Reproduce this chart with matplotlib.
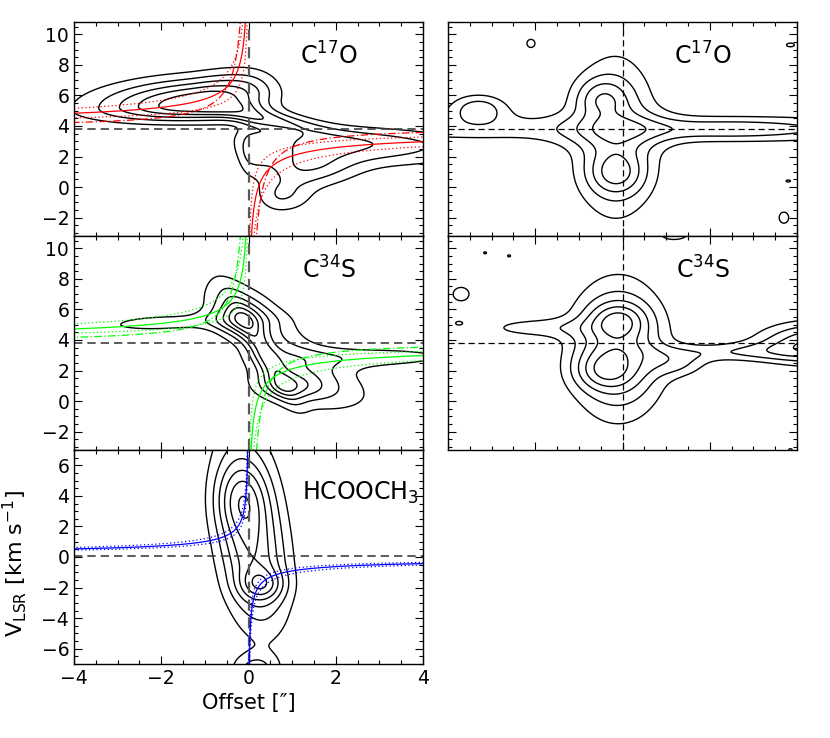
import numpy as np
import matplotlib
matplotlib.use('Agg')
from matplotlib import pyplot as plt
from matplotlib.ticker import MultipleLocator

plt.rcParams['font.family'] = ['DejaVu Sans']
plt.rcParams['mathtext.fontset'] = 'dejavusans'

# emission components:
# (x0, v0, sig_x left, sig_x right, sig_v low, sig_v high, amplitude, dv/dx shear, dx/dv shear)
c17o_pv = [(-1.1, 5.4, 1.6, 0.9, 0.7, 1.15, 5.5, 0.1, 0),
           (0.0, 6.5, 0.6, 0.5, 0.8, 1.0, 1.5, 0, 0),
           (0.3, 4.5, 0.6, 0.9, 0.4, 0.5, 2.8, -0.5, 0),
           (1.8, 2.9, 1.3, 2.4, 1.0, 0.75, 3.0, -0.08, 0),
           (1.3, 1.2, 0.6, 0.8, 0.9, 0.8, 2.2, 0, 0),
           (0.75, -0.6, 0.4, 0.5, 0.8, 0.8, 1.8, 0, 0),
           (0.05, 2.2, 0.2, 0.35, 1.1, 1.1, 1.5, 0, 0)]
c34s_pv = [(-0.1, 5.5, 0.7, 1.0, 1.3, 1.6, 2.2, -1.5, 0),
           (1.1, 1.2, 0.8, 1.2, 1.2, 1.4, 2.2, -0.5, 0),
           (0.35, 3.2, 0.5, 0.5, 1.0, 1.0, 2.0, -4.0, 0),
           (-0.2, 5.3, 0.4, 0.4, 0.8, 0.9, 1.6, 0, 0),
           (0.9, 1.0, 0.45, 0.5, 0.55, 0.6, 1.6, 0, 0),
           (-2.0, 5.1, 1.2, 1.5, 0.45, 0.5, 1.35, 0.1, 0),
           (3.0, 2.9, 1.6, 1.6, 0.55, 0.5, 1.35, 0, 0)]
hcooch3_pv = [(0.1, 0.5, 0.55, 0.55, 3.6, 5.2, 4.1, 0, -0.04),
              (-0.2, 3.8, 0.4, 0.4, 1.6, 1.6, 1.8, 0, 0),
              (0.3, -1.8, 0.35, 0.35, 0.7, 0.7, 2.0, 0, 0),
              (0.15, -7.3, 0.4, 0.4, 0.7, 0.7, 1.8, 0, 0)]
c17o_perp = [(-0.15, 2.8, 0.75, 0.75, 3.8, 4.5, 2.2, 0, 0),
             (-0.5, 5.8, 0.45, 0.45, 0.8, 1.0, 1.6, 0, 0),
             (-0.15, 0.9, 0.45, 0.45, 1.0, 1.0, 1.7, 0, 0),
             (0.0, 3.8, 20.0, 20.0, 0.8, 0.8, 1.25, 0, 0),
             (2.5, 3.8, 1.5, 1.5, 0.5, 0.5, 1.0, 0, 0),
             (-3.3, 5.2, 0.5, 0.5, 0.7, 0.7, 1.9, 0, 0),
             (-2.1, 9.4, 0.12, 0.12, 0.35, 0.35, 1.3, 0, 0),
             (3.7, -2.0, 0.15, 0.15, 0.5, 0.5, 1.3, 0, 0),
             (3.85, 9.3, 0.15, 0.15, 0.2, 0.2, 1.2, 0, 0),
             (3.8, 0.4, 0.12, 0.12, 0.15, 0.15, 1.1, 0, 0)]
c34s_perp = [(-0.1, 3.4, 0.8, 0.8, 3.2, 3.2, 3.2, 0, 0),
             (-0.1, 5.3, 0.45, 0.45, 0.8, 0.8, 1.6, 0, 0),
             (-0.45, 2.0, 0.5, 0.5, 0.9, 0.9, 1.6, 0, 0),
             (-2.1, 4.8, 0.9, 0.9, 0.5, 0.5, 1.25, 0, 0),
             (2.5, 3.2, 1.2, 1.2, 0.45, 0.45, 1.3, 0, 0),
             (4.5, 3.8, 1.0, 1.0, 1.0, 1.0, 3.2, 0, 0),
             (1.3, 2.4, 0.5, 0.5, 0.6, 0.6, 1.2, 0, 0),
             (-3.7, 7.0, 0.25, 0.25, 0.6, 0.6, 1.3, 0, 0),
             (-3.15, 9.7, 0.08, 0.08, 0.15, 0.15, 1.1, 0, 0),
             (-2.6, 9.5, 0.08, 0.08, 0.15, 0.15, 1.1, 0, 0),
             (-3.75, 5.1, 0.1, 0.1, 0.15, 0.15, 1.1, 0, 0),
             (1.2, 10.9, 0.35, 0.35, 0.4, 0.4, 1.3, 0, 0),
             (3.85, -3.2, 0.1, 0.1, 0.2, 0.2, 1.1, 0, 0)]

levels_c17o = [1.0, 1.9, 2.8, 3.7, 4.6]
levels_c34s = [1.0, 1.8, 2.6, 3.4, 4.2, 5.0]
levels_hcooch3 = [1.0, 1.8, 2.6, 3.4, 4.2, 5.0]
levels_c17o_perp = [1.0, 1.7, 2.4, 3.1]
levels_c34s_perp = [1.0, 1.7, 2.4, 3.1, 3.8]

# Keplerian / model curves: (vsys, A_solid, A_dot_low, A_dot_high, B_dashdot)
red_model = (3.9, 1.86, 1.25, 2.5, 1.3)
green_model = (3.85, 1.74, 1.2, 2.4, 1.3)
blue_model = (0.05, 0.96, 0.8, 1.15, None)

vsys_line = [3.8, 3.8, 0.05]

xg = np.linspace(-4.5, 4.5, 361)
vg = np.linspace(-8, 12, 401)
X, V = np.meshgrid(xg, vg)


def field(comps):
    Z = np.zeros_like(X)
    for x0, v0, sxl, sxh, svl, svh, amp, kv, kx in comps:
        dx = X - x0 - kx * (V - v0)
        dv = V - v0 - kv * (X - x0)
        sx = np.where(dx < 0, sxl, sxh)
        sv = np.where(dv < 0, svl, svh)
        Z += amp * np.exp(-0.5 * ((dx / sx) ** 2 + (dv / sv) ** 2))
    return Z


def kepler(ax, model, color):
    vs, a, alo, ahi, b = model
    r = np.linspace(0.002, 4.3, 1500)
    for sgn in (-1, 1):
        xs = sgn * r
        ax.plot(xs, vs - sgn * a / np.sqrt(r), color=color, lw=0.9)
        ax.plot(xs, vs - sgn * alo / np.sqrt(r), color=color, lw=0.9, ls=(0, (1, 2)))
        ax.plot(xs, vs - sgn * ahi / np.sqrt(r), color=color, lw=0.9, ls=(0, (1, 2)))
        if b is not None:
            ax.plot(xs, vs - sgn * b / r, color=color, lw=0.9, ls=(0, (6, 2, 1, 2)))


def style(ax, ylim, labels):
    ax.set_xlim(-4, 4)
    ax.set_ylim(*ylim)
    ax.xaxis.set_major_locator(MultipleLocator(2))
    ax.xaxis.set_minor_locator(MultipleLocator(0.5))
    ax.yaxis.set_major_locator(MultipleLocator(2))
    ax.yaxis.set_minor_locator(MultipleLocator(0.5))
    ax.tick_params(which='both', direction='in', top=True, right=True, labelsize=13.5)
    ax.tick_params(which='major', length=6, width=0.8)
    ax.tick_params(which='minor', length=3, width=0.8)
    ax.tick_params(labelbottom=labels[0], labelleft=labels[1])
    for s in ax.spines.values():
        s.set_linewidth(1.0)


fig = plt.figure(figsize=(8.3, 7.38), dpi=100)
W = 349 / 830
H = 214 / 738
axA = fig.add_axes([74 / 830, 1 - 236 / 738, W, H])
axB = fig.add_axes([74 / 830, 1 - 450 / 738, W, H])
axC = fig.add_axes([74 / 830, 1 - 664 / 738, W, H])
axD = fig.add_axes([448 / 830, 1 - 236 / 738, W, H])
axE = fig.add_axes([448 / 830, 1 - 450 / 738, W, H])

panels = [(axA, c17o_pv, levels_c17o, (-3.2, 10.8), (False, True)),
          (axB, c34s_pv, levels_c34s, (-3.2, 10.8), (False, True)),
          (axC, hcooch3_pv, levels_hcooch3, (-7, 7), (True, True)),
          (axD, c17o_perp, levels_c17o_perp, (-3.2, 10.8), (False, False)),
          (axE, c34s_perp, levels_c34s_perp, (-3.2, 10.8), (False, False))]
for ax, comps, lev, ylim, lab in panels:
    ax.contour(X, V, field(comps), levels=lev, colors='k', linewidths=1.0)
    style(ax, ylim, lab)

for ax, vl in zip([axA, axB, axC], vsys_line):
    ax.axhline(vl, color='0.25', lw=1.2, ls=(0, (5, 3)))
    ax.axvline(0, color='0.35', lw=1.6, ls=(0, (5, 3)))
for ax in [axD, axE]:
    ax.axhline(3.8, color='k', lw=0.9, ls=(0, (5, 3)))
    ax.axvline(0, color='k', lw=0.9, ls=(0, (5, 3)))

kepler(axA, red_model, '#ff0000')
kepler(axB, green_model, '#00ff00')
kepler(axC, blue_model, '#0000ff')

for ax in [axA, axD]:
    ax.text(0.73, 0.84, r'C$^{17}$O', transform=ax.transAxes, fontsize=17, ha='center', va='center')
for ax in [axB, axE]:
    ax.text(0.73, 0.84, r'C$^{34}$S', transform=ax.transAxes, fontsize=17, ha='center', va='center')
axC.text(0.82, 0.8, r'HCOOCH$_3$', transform=axC.transAxes, fontsize=17, ha='center', va='center')

axC.set_xlabel('Offset [\u2033]', fontsize=15, labelpad=4)
fig.text(0.017, 1 - 564 / 738, r'V$_{\rm LSR}$ [km s$^{-1}$]', rotation=90,
         fontsize=16, ha='center', va='center')

fig.savefig('out.png', dpi=100)
